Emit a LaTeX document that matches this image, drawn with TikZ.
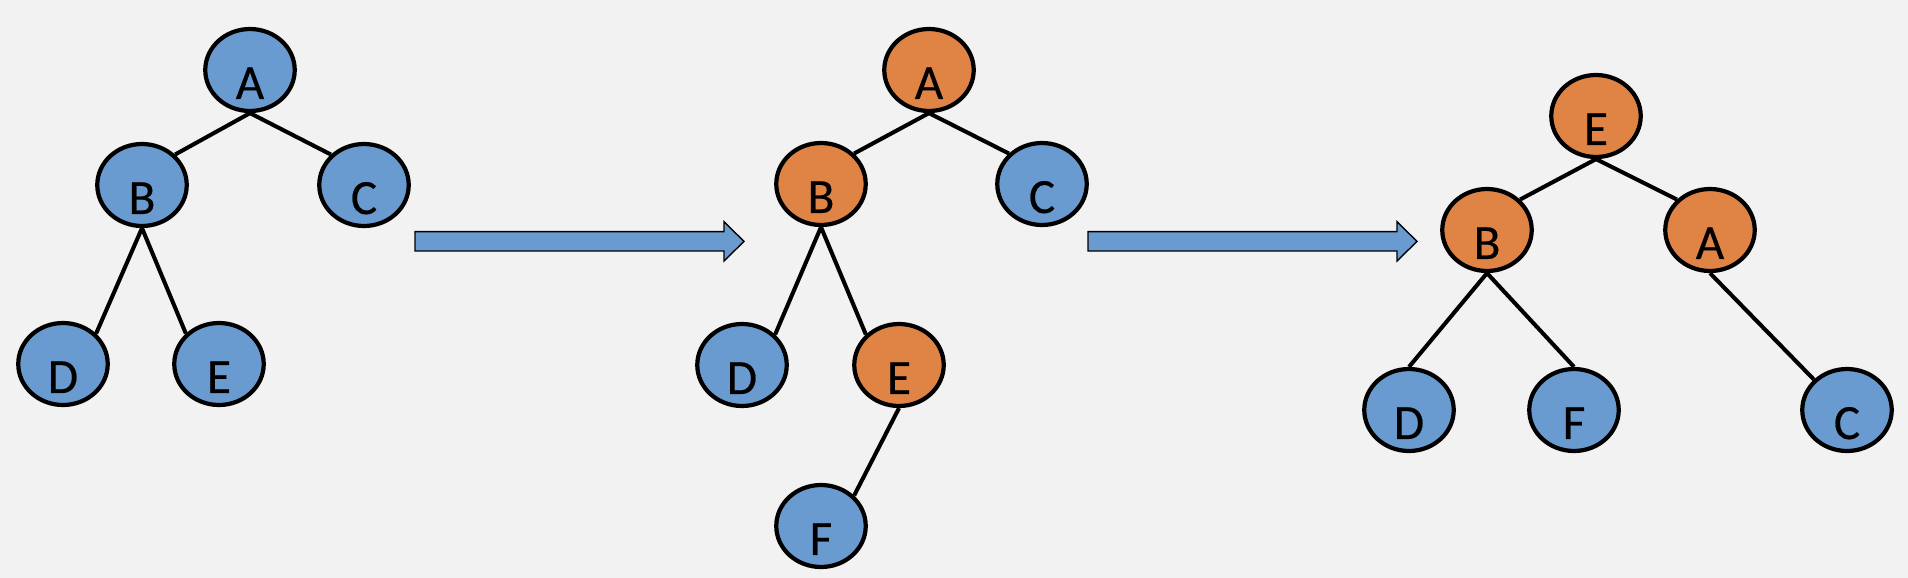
\documentclass[tikz,border=0pt]{standalone}
\usepackage{fontspec}
\setmainfont{Carlito}[UprightFeatures={FakeBold=0.4}]
\usetikzlibrary{shapes.geometric}
\definecolor{keyblue}{RGB}{106,155,208}
\definecolor{keyorange}{RGB}{224,132,70}
\definecolor{slidegray}{RGB}{242,242,242}
\tikzset{
  keynode/.style={ellipse, draw, line width=2.4pt, fill=keyblue,
    minimum width=1.79cm, minimum height=1.55cm, inner sep=0pt,
    text height=33pt, text depth=0pt, font=\fontsize{28}{30}\selectfont},
  splayed/.style={keynode, fill=keyorange},
  link/.style={line width=2.3pt},
  stepper/.style={draw, line width=0.8pt, fill=keyblue, line join=miter}
}
\begin{document}
\begin{tikzpicture}[x=0.02cm, y=-0.02cm]
  % Slide background
  \fill[slidegray] (0,0) rectangle (1908,578);
  \useasboundingbox (0,0) rectangle (1908,578);
  % First tree
  \node[keynode] (A1) at (250,70) {A};
  \node[keynode] (B1) at (142,185) {B};
  \node[keynode] (C1) at (364,185) {C};
  \node[keynode] (D1) at (63,364) {D};
  \node[keynode] (E1) at (219,364) {E};
  \draw[link] (A1.south) -- (B1.north east);
  \draw[link] (A1.south) -- (C1.north west);
  \draw[link] (B1.south) -- (D1.north east);
  \draw[link] (B1.south) -- (E1.north west);
  % Second tree, after inserting F
  \node[splayed] (A2) at (929,70) {A};
  \node[splayed] (B2) at (821,184) {B};
  \node[keynode] (C2) at (1042,184) {C};
  \node[keynode] (D2) at (742,365) {D};
  \node[splayed] (E2) at (899,365) {E};
  \node[keynode] (F2) at (821,526) {F};
  \draw[link] (A2.south) -- (B2.north east);
  \draw[link] (A2.south) -- (C2.north west);
  \draw[link] (B2.south) -- (D2.north east);
  \draw[link] (B2.south) -- (E2.north west);
  \draw[link] (E2.south) -- (F2.north east);
  % Third tree, E splayed to the root
  \node[splayed] (E3) at (1596,116) {E};
  \node[splayed] (B3) at (1487,230) {B};
  \node[splayed] (A3) at (1710,230) {A};
  \node[keynode] (D3) at (1409,410) {D};
  \node[keynode] (F3) at (1574,410) {F};
  \node[keynode] (C3) at (1847,410) {C};
  \draw[link] (E3.south) -- (B3.north east);
  \draw[link] (E3.south) -- (A3.north west);
  \draw[link] (B3.south) -- (D3.north);
  \draw[link] (B3.south) -- (F3.north);
  \draw[link] (A3.south) -- (C3.north west);
  % Block arrows between the trees
  \foreach \x in {415,1088} {
    \draw[stepper] (\x,231.7) -- (\x+309,231.7) -- (\x+309,221.7) -- (\x+329,241.4)
      -- (\x+309,261) -- (\x+309,251) -- (\x,251) -- cycle;
  }
\end{tikzpicture}
\end{document}
